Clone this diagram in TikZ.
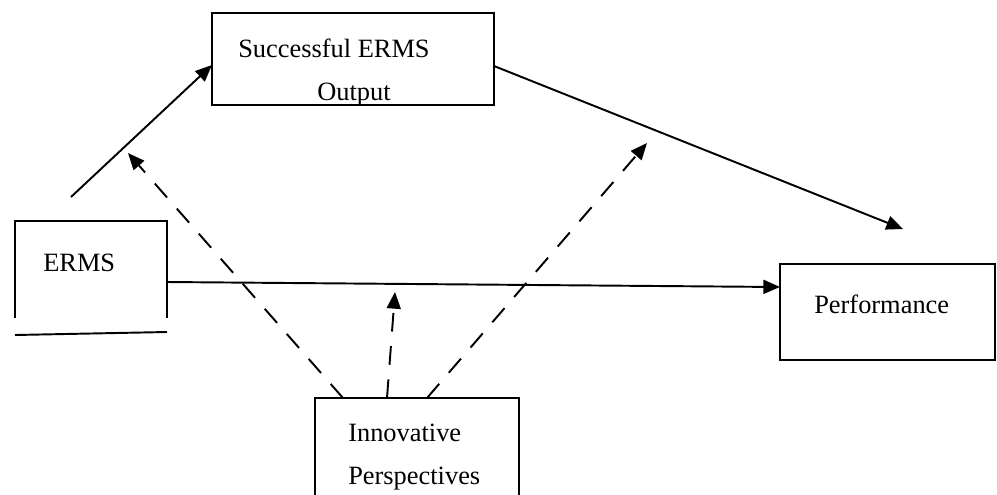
\documentclass[tikz,border=0pt]{standalone}
\usepackage{fontspec}
\setmainfont{Liberation Serif}
\usetikzlibrary{arrows.meta,calc,fit}
\begin{document}
\begin{tikzpicture}[x=0.75pt,y=-0.75pt,
  line/.style={line width=1.45pt},
  tip/.style={-{Triangle[length=12.5pt,width=10.5pt]}},
  dsh/.style={dash pattern=on 14pt off 11pt},
  lbl/.style={inner sep=0pt,anchor=base west,font=\fontsize{19.8}{24}\selectfont},
  box/.style={draw,line width=1.45pt,inner sep=0pt,outer sep=0pt,rectangle},
  nobox/.style={inner sep=0pt,outer sep=0pt,rectangle}]
\useasboundingbox (0,0) rectangle (997,494);
\clip (0,0) rectangle (997,494);

% boxes
\node[box, fit={(212,13) (494,105)}] (succ) {};
\node[nobox, fit={(15,221) (167,318)}] (erms) {};
\draw[line] (erms.south west) -- (erms.north west) -- (erms.north east) -- (erms.south east);
\draw[line] ($(erms.south west)+(0,17)$) -- ($(erms.south east)+(0,14)$);
\node[box, fit={(780,264) (995,360)}] (perf) {};
\node[nobox, fit={(315,398) (519,510)}] (innov) {};
\draw[line] (innov.south west) -- (innov.north west) -- (innov.north east) -- (innov.south east);

% labels
\node[lbl] (t1) at (238,57) {Successful ERMS};
\node[lbl] (t2) at (317,100) {Output};
\node[lbl] (t3) at (43,271) {ERMS};
\node[lbl] (t4) at (814,313) {Performance};
\node[lbl] (t5) at (348,441) {Innovative};
\node[lbl] (t6) at (348,484) {Perspectives};

% connectors
\coordinate (e1) at (71,197);
\draw[line,tip] (e1) -- ($(succ.north west)+(0,52)$);
\draw[line,tip] ($(erms.north east)+(0,61)$) -- ($(perf.north west)+(0,23)$);
\coordinate (p1) at (903,229);
\draw[line,tip] ($(succ.north east)+(0,53)$) -- (p1);
\coordinate (m1) at (128,153);
\coordinate (m2) at (395,292);
\coordinate (m3) at (647,143);
\draw[line,dsh,tip] ($(innov.north west)+(28,0)$) -- (m1);
\draw[line,dsh,tip] ($(innov.north west)+(72,0)$) -- (m2);
\draw[line,dsh,tip] ($(innov.north west)+(112,0)$) -- (m3);
\end{tikzpicture}
\end{document}
